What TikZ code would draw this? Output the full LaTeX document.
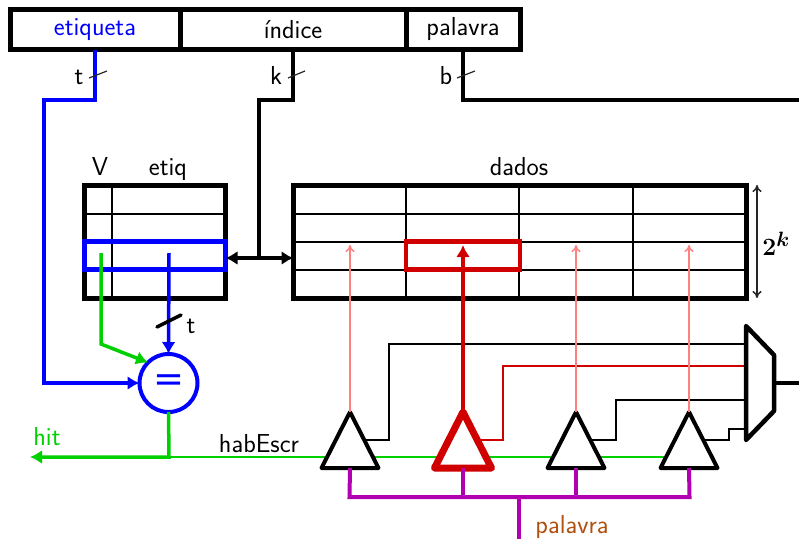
\documentclass[tikz,border=0pt]{standalone}
\usepackage{fontspec}
\usepackage{bm}
\usetikzlibrary{positioning,shapes.geometric,arrows.meta}

\newfontfamily\eqfont{DejaVu Sans}

\definecolor{wireGreen}{HTML}{00D000}
\definecolor{wireRed}{HTML}{D00000}
\definecolor{wirePink}{HTML}{FF8080}
\definecolor{wirePurple}{HTML}{B000B0}
\definecolor{textBrown}{HTML}{B05010}

\begin{document}
\begin{tikzpicture}[
    x=1pt, y=-1pt,
    font=\fontsize{26}{30}\selectfont\sffamily,
    bigtip/.tip={Latex[length=12pt,width=14pt]},
    smalltip/.tip={To[length=7pt,width=9pt]},
    field/.style={rectangle, draw, line width=5pt, outer sep=0pt, inner sep=0pt, minimum height=40pt},
    memory/.style={rectangle, draw, line width=5pt, outer sep=0pt, inner sep=0pt, minimum height=113pt},
    cell/.style={line width=2pt},
    selRow/.style={rectangle, draw, line width=4.5pt, outer sep=0pt, inner sep=0pt, minimum height=28pt},
    bus/.style={line width=3.5pt},
    thin wire/.style={line width=2pt},
    tick/.style={line width=1.2pt, black!85},
    probe/.style={-smalltip, line width=1.5pt, wirePink},
    tristate/.style={isosceles triangle, isosceles triangle stretches, shape border rotate=90, draw, fill=white, line width=4pt, line join=round, outer sep=0pt, inner sep=0pt, minimum width=57pt, minimum height=56pt, anchor=apex},
    label/.style={inner sep=0pt}
  ]
    \useasboundingbox (0,0) rectangle (799,539);

    % Address fields
    \node[field, minimum width=170pt, anchor=north west, text=blue] (etiqueta) at (10,9.5) {etiqueta};
    \node[field, minimum width=226pt, right=0pt of etiqueta] (indice) {índice};
    \node[field, minimum width=114pt, right=0pt of indice] (palavra) {palavra};

    % Tag and data arrays
    \node[memory, minimum width=141pt, anchor=north west] (tagArray) at (84.5,185.5) {};
    \node[memory, minimum width=453pt, anchor=north west] (dataArray) at (293.5,185.5) {};
    \foreach \y in {214,242,270} {
      \draw[cell] (tagArray.west |- 0,\y) -- (tagArray.east |- 0,\y);
      \draw[cell] (dataArray.west |- 0,\y) -- (dataArray.east |- 0,\y);
    }
    \draw[cell] (112,185) -- (112,298);
    \foreach \x in {406,519,633}
      \draw[cell] (\x,185) -- (\x,298);

    \node[label, anchor=base] (vLabel) at (100,175) {V};
    \node[label, anchor=base] (etiqLabel) at (168,175) {etiq};
    \node[label, anchor=base] (dadosLabel) at (519,175) {dados};

    \node[selRow, draw=blue, minimum width=141pt, anchor=north west] (tagRow) at (84.5,241.5) {};
    \node[selRow, draw=wireRed, minimum width=114pt, anchor=north west] (dataRow) at (406,241.5) {};

    % Comparator, tristate buffers and mux
    \coordinate (busJoin) at (169,457);
    \draw[thin wire, wireGreen] (busJoin) -- (666,457);

    \node[circle, draw=blue, fill=white, line width=4pt, outer sep=0pt, inner sep=0pt, minimum size=58pt, text=blue, font=\fontsize{37}{37}\selectfont\eqfont] (cmp) at (168.5,383) {=};
    \node[tristate] (triA) at (350,412) {};
    \node[tristate, draw=wireRed, line width=7pt] (triB) at (463,412) {};
    \node[tristate] (triC) at (576,412) {};
    \node[tristate] (triD) at (689,412) {};

    % Buffer outputs
    \draw[thin wire] (triA.right side) -- (389,440) -- (389,344) -- (746,344);
    \draw[thin wire, wireRed] (triB.right side) -- (503,440) -- (503,366) -- (746,366);
    \draw[thin wire] (triC.right side) -- (616,440) -- (616,400) -- (746,400);
    \draw[thin wire] (triD.right side) -- (729,440) -- (729,429) -- (746,429);

    \coordinate (muxOut) at (774,383);
    \draw[line width=4.5pt, line join=round] (746,326) -- (774,355) -- (774,411) -- (746,440) -- cycle;
    \draw[line width=4pt] (muxOut) -- (799,383);

    \node[label, anchor=base] (habLabel) at (259,452) {habEscr};
    \node[label, anchor=base, text=wireGreen] (hitLabel) at (47,445) {hit};
    \node[label, anchor=base, text=textBrown] (palavraLabel) at (572,533.5) {palavra};
    \node[label, anchor=base] (tLabel) at (79,84) {t};
    \node[label, anchor=base] (kLabel) at (276,84) {k};
    \node[label, anchor=base] (bLabel) at (446,84) {b};
    \node[label, anchor=base] (tTagLabel) at (191,333) {t};
    \node[label, font=\fontsize{28}{30}\selectfont] (sizeLabel) at (776,244) {$\bm{2^k}$};

    % Address wires
    \draw[bus, blue, -bigtip] (etiqueta.south) -- (95,100) -- (44,100) -- (44,383) -- (cmp.west);
    \draw[bus, line join=miter] (indice.south) -- (293,100) -- (259,100) -- (259,258);
    \draw[bus, line join=miter] (palavra.south) -- (463,100) -- (799,100);
    \draw[tick] (89,78) -- (107,71);
    \draw[tick] (288,78) -- (305,71);
    \draw[tick] (457,78) -- (475,71);

    \draw[bus, bigtip-bigtip] (tagRow.east |- 0,258) -- (dataArray.west |- 0,258);
    \draw[line width=1.5pt, black!85, smalltip-smalltip] (757,185) -- (757,298);

    % Comparison
    \draw[bus, wireGreen, -bigtip] (101,253) -- (101,344) -- (cmp.135);
    \draw[bus, blue, -bigtip] (169,253) -- (cmp.north);
    \draw[bus, line cap=round] (157,327) -- (181,315);
    \draw[bus, wireGreen, -bigtip] (cmp.south) -- (busJoin) -- (30,457);

    % Data lines
    \draw[probe] (triA.apex) -- (350,245);
    \draw[bus, wireRed, -bigtip] (triB.apex) -- (463,245);
    \draw[probe] (triC.apex) -- (576,245);
    \draw[probe] (triD.apex) -- (689,245);

    % Data in
    \coordinate (wordJoin) at (519,497);
    \draw[line width=4pt, wirePurple] (triA.lower side) -- (349.5,497) -- (689.5,497) -- (triD.lower side);
    \draw[line width=4pt, wirePurple] (triB.lower side) -- (463,497);
    \draw[line width=4pt, wirePurple] (triC.lower side) -- (576,497);
    \draw[line width=4pt, wirePurple] (wordJoin) -- (519,539);
  \end{tikzpicture}
\end{document}
